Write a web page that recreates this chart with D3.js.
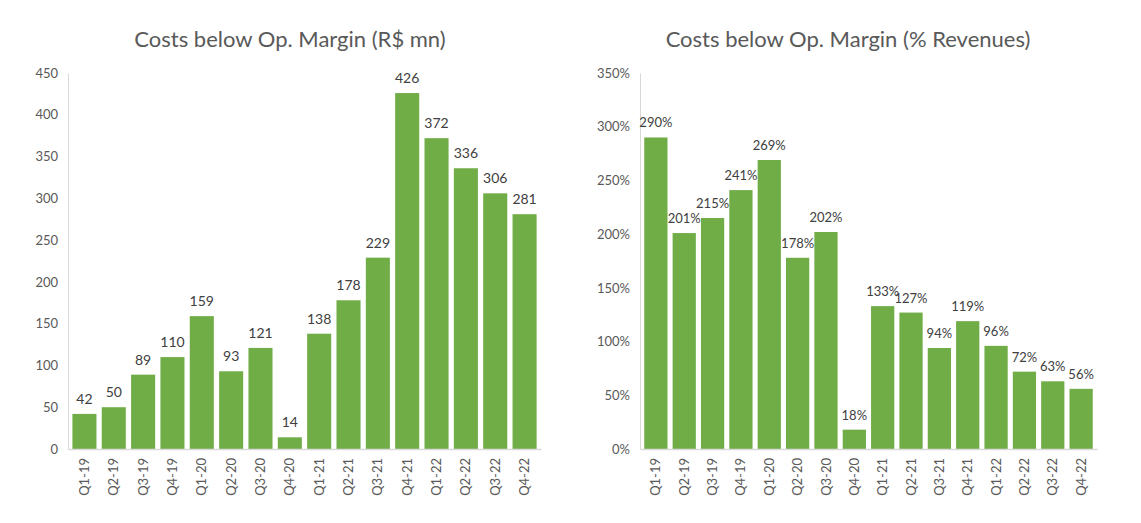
<!DOCTYPE html>
<html>
<head>
<meta charset="utf-8">
<script src="https://cdn.jsdelivr.net/npm/d3@7"></script>
<style>
  body { margin: 0; background: #fff; }
  svg text { font-family: Lato, 'Open Sans', sans-serif; }
</style>
</head>
<body>
<div id="chart"></div>
<script>
const quarters = ['Q1-19', 'Q2-19', 'Q3-19', 'Q4-19', 'Q1-20', 'Q2-20', 'Q3-20', 'Q4-20',
  'Q1-21', 'Q2-21', 'Q3-21', 'Q4-21', 'Q1-22', 'Q2-22', 'Q3-22', 'Q4-22']
const costsMn = [42, 50, 89, 110, 159, 93, 121, 14, 138, 178, 229, 426, 372, 336, 306, 281]
const costsPct = [290, 201, 215, 241, 269, 178, 202, 18, 133, 127, 94, 119, 96, 72, 63, 56]
const ticksMn = [0, 50, 100, 150, 200, 250, 300, 350, 400, 450]
const ticksPct = [0, 50, 100, 150, 200, 250, 300, 350]

const svg = d3.select('#chart').append('svg')
  .attr('width', 1141)
  .attr('height', 523)

const barColor = '#70AD47'
const axisColor = '#D9D9D9'
const textColor = '#595959'

function drawPanel (cfg) {
  const g = svg.append('g')

  const x = d3.scaleBand()
    .domain(quarters)
    .range([cfg.left, cfg.right])
    .paddingInner(0.18)
    .paddingOuter(0.15)

  const y = d3.scaleLinear()
    .domain([0, cfg.max])
    .range([449, 73])

  // title
  g.append('text')
    .attr('x', cfg.titleX)
    .attr('y', 47)
    .attr('text-anchor', 'middle')
    .attr('fill', textColor)
    .style('font-size', '22px')
    .text(cfg.title)

  // y axis (labels only + a light line)
  const yAxis = d3.axisLeft(y).tickValues(cfg.ticks).tickSize(0).tickPadding(10)
    .tickFormat(cfg.fmt)
  const gy = g.append('g')
    .attr('transform', `translate(${cfg.left},0)`)
    .call(yAxis)
  gy.select('.domain').attr('stroke', axisColor)
  gy.selectAll('text').attr('fill', textColor).style('font-size', '13px')

  // bars
  g.selectAll('rect.bar')
    .data(cfg.values)
    .enter()
    .append('rect')
    .attr('class', 'bar')
    .attr('x', (d, i) => x(quarters[i]))
    .attr('y', d => y(d))
    .attr('width', x.bandwidth())
    .attr('height', d => y(0) - y(d))
    .attr('fill', barColor)

  // value labels
  g.selectAll('text.val')
    .data(cfg.values)
    .enter()
    .append('text')
    .attr('class', 'val')
    .attr('x', (d, i) => x(quarters[i]) + x.bandwidth() / 2)
    .attr('y', d => y(d) - 10)
    .attr('text-anchor', 'middle')
    .attr('fill', '#404040')
    .style('font-size', cfg.labelSize)
    .text(d => d + cfg.suffix)

  // x axis
  const xAxis = d3.axisBottom(x).tickSize(0).tickPadding(8)
  const gx = g.append('g')
    .attr('transform', `translate(0,${y(0)})`)
    .call(xAxis)
  gx.select('.domain').attr('stroke', axisColor).attr('stroke-width', 1.5)
  gx.selectAll('text')
    .attr('transform', 'rotate(-90)')
    .attr('text-anchor', 'end')
    .attr('dy', '0.35em')
    .attr('x', -9)
    .attr('y', 0)
    .attr('fill', textColor)
    .style('font-size', '13px')
}

drawPanel({
  title: 'Costs below Op. Margin (R$ mn)',
  titleX: 290,
  left: 68,
  right: 541,
  max: 450,
  ticks: ticksMn,
  values: costsMn,
  suffix: '',
  labelSize: '14px',
  fmt: d => d
})

drawPanel({
  title: 'Costs below Op. Margin (% Revenues)',
  titleX: 848,
  left: 640,
  right: 1097,
  max: 350,
  ticks: ticksPct,
  values: costsPct,
  suffix: '%',
  labelSize: '13px',
  fmt: d => d + '%'
})
</script>
</body>
</html>
